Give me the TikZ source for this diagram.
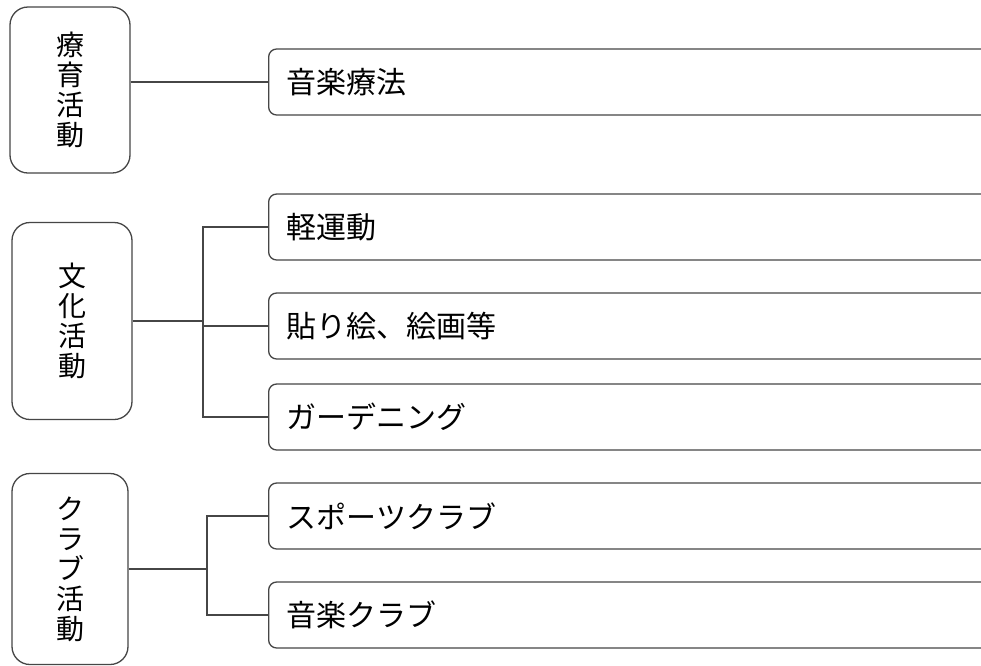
\documentclass[tikz,border=0pt]{standalone}
\usepackage{fontspec}
\newfontfamily\jp{Noto Sans CJK JP}
\definecolor{linec}{RGB}{70,70,70}
\begin{document}
\begin{tikzpicture}[x=1pt,y=-1pt]
\tikzset{
  lbox/.style={draw=linec, line width=1.3pt, rounded corners=18pt, inner sep=0pt,
    align=center, font=\jp\fontsize{28}{30}\selectfont},
  rbox/.style={draw=linec, line width=1.3pt, rounded corners=8pt, minimum height=66pt,
    anchor=west, text width=740pt, inner xsep=18pt, inner ysep=0pt, align=left,
    font=\jp\fontsize{30}{30}\selectfont},
  conn/.style={draw=linec, line width=1.2pt}
}
\useasboundingbox (0,0) rectangle (981,665);
\clip (0,0) rectangle (981,665);
\fill[white] (0,0) rectangle (981,665);

% left boxes
\node[lbox, minimum width=120pt, minimum height=166pt] (L1) at (70,90) {療\\育\\活\\動};
\node[lbox, minimum width=120pt, minimum height=197pt] (L2) at (72,321) {文\\化\\活\\動};
\node[lbox, minimum width=116pt, minimum height=191pt] (L3) at (70,569) {ク\\ラ\\ブ\\活\\動};

% right boxes
\node[rbox] (R1)  at (268,82)  {音楽療法};
\node[rbox] (R2a) at (268,227) {軽運動};
\node[rbox] (R2b) at (268,326) {貼り絵、絵画等};
\node[rbox] (R2c) at (268,417) {ガーデニング};
\node[rbox] (R3a) at (268,516) {スポーツクラブ};
\node[rbox] (R3b) at (268,615) {音楽クラブ};

% connectors
\draw[conn] (R1.west -| L1.east) -- (R1.west);

\coordinate (b2) at (203,321);
\draw[conn] (L2.east) -- (b2);
\draw[conn] (R2a.west) -| (b2) |- (R2c.west);
\draw[conn] (R2b.west) -- (R2b.west -| b2);

\coordinate (b3) at (207,569);
\draw[conn] (L3.east) -- (b3);
\draw[conn] (R3a.west) -| (b3) |- (R3b.west);
\end{tikzpicture}
\end{document}
